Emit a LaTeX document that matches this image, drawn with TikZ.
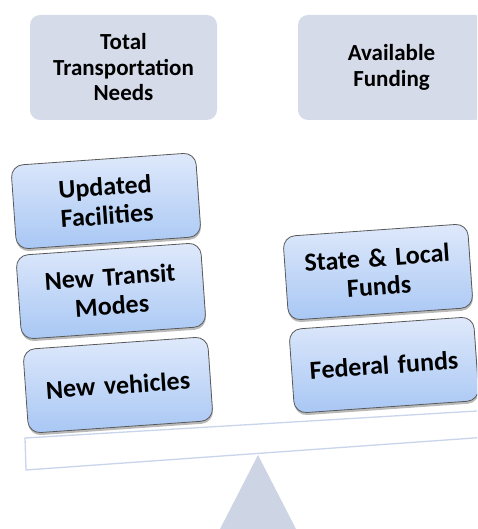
\documentclass[tikz,border=0pt]{standalone}
\usepackage{fontspec}
\setmainfont{Carlito}
\usetikzlibrary{shadows}
\definecolor{headgray}{HTML}{D5DBE8}
\definecolor{boxtop}{HTML}{DFE9FB}
\definecolor{boxbot}{HTML}{A8C7F4}
\definecolor{beamline}{HTML}{C9D5EC}
\definecolor{pivotgray}{HTML}{CDD5E4}
\begin{document}
\begin{tikzpicture}[x=1pt,y=-1pt,
  head/.style={fill=headgray, rounded corners=10pt, minimum width=187pt, minimum height=105pt,
    text width=180pt, align=center, inner sep=0pt, font=\fontsize{23}{25.5}\selectfont\bfseries},
  item/.style={draw=black!65, line width=0.8pt, rounded corners=12pt, top color=boxtop, bottom color=boxbot,
    minimum width=185pt, minimum height=84pt, text width=175pt, align=center, inner sep=0pt, rotate=4,
    drop shadow={shadow xshift=0.5pt, shadow yshift=-2.5pt, fill=black!50, opacity=0.55},
    font=\fontsize{26}{29}\selectfont\bfseries}]
\useasboundingbox (0,0) rectangle (477,529);
\clip (0,0) rectangle (477,529);
% pivot and beam
\fill[pivotgray] (258,455) -- (296,529) -- (220,529) -- cycle;
\draw[beamline, line width=1.3pt, fill=white] (25,438) -- (500,409.6) -- (502,436) -- (26,470) -- cycle;
% headings
\node[head] (total) at (123.5,67.5) {Total\\Transportation\\Needs};
\node[head] (avail) at (391.5,67.5) {Available\\Funding};
% needs side
\node[item] (facil) at (106,201) {Updated\\Facilities};
\node[item] (modes) at (111,291) {New Transit\\Modes};
\node[item] (vehic) at (118,385) {New vehicles};
% funding side
\node[item] (state) at (378,272) {State \& Local\\Funds};
\node[item] (federal) at (384,365) {Federal funds};
\end{tikzpicture}
\end{document}
